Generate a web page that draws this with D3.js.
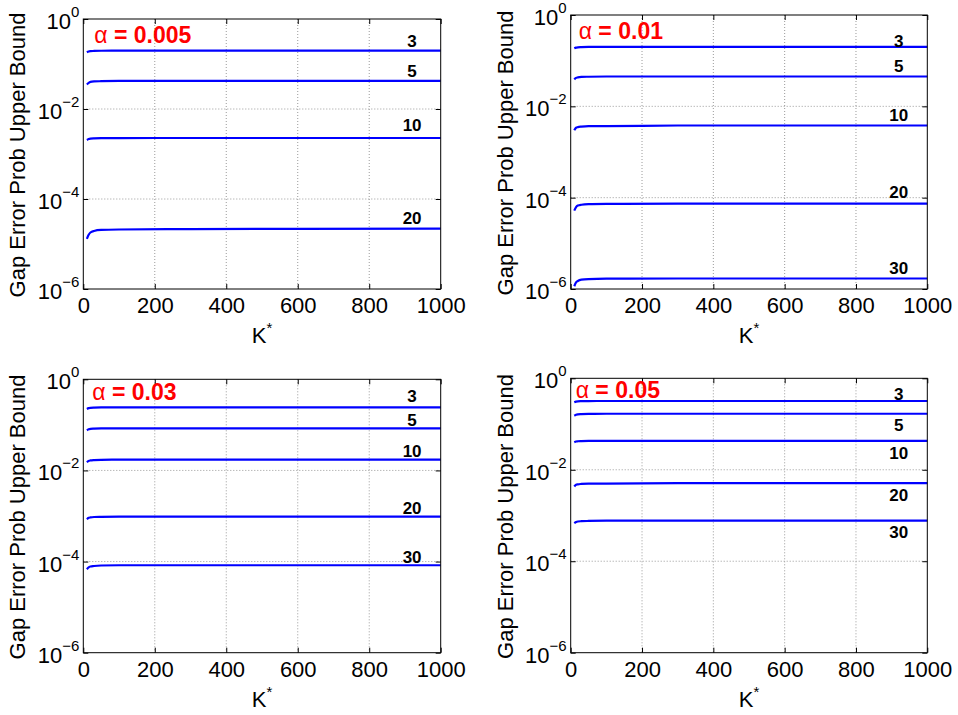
<!DOCTYPE html>
<html lang="en">
<head>
  <meta charset="UTF-8">
  <title>Gap Error Prob Upper Bound</title>
  <script src="https://d3js.org/d3.v7.min.js"></script>
  <style>
    body { margin: 0; background: white; }
    svg { display: block; }
    svg text { font-family: "Liberation Sans", Arial, Helvetica, sans-serif; }
  </style>
</head>
<body>
  <div id="chart"></div>
  <script>
    // data
    const kSamples = [10, 15, 20, 30, 50, 100, 300, 1000]
    const xTicks = [0, 200, 400, 600, 800, 1000]
    const yTickExponents = [0, -2, -4, -6]
    const alphaValues = ['0.005', '0.01', '0.03', '0.05']
    const gapsAlpha005 = [3, 5, 10, 20]
    const gapsOther = [3, 5, 10, 20, 30]

    const boundAlpha005 = [
      [0.182, 0.190, 0.193, 0.195, 0.197, 0.198, 0.198, 0.198],
      [0.035, 0.038, 0.040, 0.041, 0.0415, 0.042, 0.042, 0.042],
      [0.00205, 0.00215, 0.0022, 0.00223, 0.00225, 0.00226, 0.00227, 0.00227],
      [1.3e-5, 1.6e-5, 1.8e-5, 1.95e-5, 2.05e-5, 2.1e-5, 2.15e-5, 2.19e-5]
    ]
    const boundAlpha01 = [
      [0.186, 0.193, 0.196, 0.198, 0.200, 0.201, 0.201, 0.201],
      [0.039, 0.042, 0.043, 0.044, 0.0445, 0.045, 0.045, 0.045],
      [0.0030, 0.0034, 0.0035, 0.0036, 0.0037, 0.0037, 0.0038, 0.0038],
      [5.2e-5, 6.2e-5, 6.7e-5, 7.0e-5, 7.2e-5, 7.3e-5, 7.4e-5, 7.4e-5],
      [1.15e-6, 1.4e-6, 1.5e-6, 1.6e-6, 1.65e-6, 1.68e-6, 1.7e-6, 1.7e-6]
    ]
    const boundAlpha03 = [
      [0.223, 0.233, 0.237, 0.240, 0.242, 0.243, 0.243, 0.243],
      [0.076, 0.080, 0.082, 0.083, 0.084, 0.084, 0.084, 0.084],
      [0.0151, 0.0162, 0.0166, 0.0169, 0.0171, 0.0172, 0.0172, 0.0172],
      [8.5e-4, 9.1e-4, 9.3e-4, 9.5e-4, 9.6e-4, 9.7e-4, 9.7e-4, 9.7e-4],
      [6.8e-5, 7.5e-5, 7.8e-5, 8.0e-5, 8.2e-5, 8.3e-5, 8.3e-5, 8.3e-5]
    ]
    const boundAlpha05 = [
      [0.300, 0.310, 0.314, 0.316, 0.318, 0.319, 0.319, 0.319],
      [0.152, 0.160, 0.163, 0.165, 0.167, 0.168, 0.168, 0.168],
      [0.040, 0.0415, 0.042, 0.0425, 0.043, 0.043, 0.043, 0.043],
      [0.0043, 0.0047, 0.0048, 0.0049, 0.0050, 0.0050, 0.0051, 0.0051],
      [6.8e-4, 7.2e-4, 7.4e-4, 7.5e-4, 7.6e-4, 7.7e-4, 7.7e-4, 7.7e-4]
    ]

    // layout of the four panels (pixels)
    const panels = [
      { alpha: alphaValues[0], gaps: gapsAlpha005, bounds: boundAlpha005,
        box: [83.3, 440.7, 19, 289], alphaPos: [11, 24], labelDy: [4, 4, 7, 5] },
      { alpha: alphaValues[1], gaps: gapsOther, bounds: boundAlpha01,
        box: [570.7, 927.3, 15, 289], alphaPos: [8, 24], labelDy: [0, 5, 5, 6, 4] },
      { alpha: alphaValues[2], gaps: gapsOther, bounds: boundAlpha03,
        box: [83.3, 440.7, 379.3, 652.7], alphaPos: [9, 21], labelDy: [5, 2, 3, 3, 2] },
      { alpha: alphaValues[3], gaps: gapsOther, bounds: boundAlpha05,
        box: [570.7, 927.3, 378.3, 652.7], alphaPos: [5, 20], labelDy: [1, -17, -18, -18, -17] }
    ]

    const width = 958
    const height = 715
    const labelK = 920
    const font = '"Liberation Sans", Arial, Helvetica, sans-serif'

    const svg = d3.select('#chart')
      .append('svg')
      .attr('width', width)
      .attr('height', height)

    svg.append('rect')
      .attr('width', width)
      .attr('height', height)
      .attr('fill', 'white')

    panels.forEach(p => {
      const [x0, x1, y0, y1] = p.box
      const x = d3.scaleLinear().domain([0, 1000]).range([x0, x1])
      const y = d3.scaleLog().domain([1e-6, 1]).range([y1, y0])
      const yTicks = yTickExponents.map(e => Math.pow(10, e))

      const g = svg.append('g')

      // dotted grid
      g.selectAll('.vgrid')
        .data(xTicks.slice(1, -1))
        .enter().append('line')
        .attr('x1', d => x(d)).attr('x2', d => x(d))
        .attr('y1', y0).attr('y2', y1)
        .attr('stroke', '#9a9a9a')
        .attr('stroke-dasharray', '1,2')
      g.selectAll('.hgrid')
        .data(yTicks.slice(1, -1))
        .enter().append('line')
        .attr('x1', x0).attr('x2', x1)
        .attr('y1', d => y(d)).attr('y2', d => y(d))
        .attr('stroke', '#9a9a9a')
        .attr('stroke-dasharray', '1,2')

      // axes with inward ticks
      const xAxis = g.append('g')
        .attr('transform', `translate(0,${y1})`)
        .call(d3.axisBottom(x).tickValues(xTicks).tickSize(-5).tickPadding(8).tickFormat(d3.format('d')))
        .attr('font-family', font)
        .attr('font-size', 22)
      xAxis.select('.domain').remove()
      xAxis.selectAll('text')
        .attr('fill', 'black')
        .attr('dy', '0.72em')

      g.append('g')
        .attr('transform', `translate(0,${y0})`)
        .call(d3.axisTop(x).tickValues(xTicks).tickSize(-5).tickFormat(''))
        .select('.domain').remove()

      const yAxis = g.append('g')
        .attr('transform', `translate(${x0},0)`)
        .call(d3.axisLeft(y).tickValues(yTicks).tickSize(-5).tickPadding(4).tickFormat(''))
        .attr('font-family', font)
        .attr('font-size', 22)
      yAxis.select('.domain').remove()
      yAxis.selectAll('.tick text').each(function (d) {
        const t = d3.select(this)
          .attr('fill', 'black')
          .attr('dy', 9.5)
        t.append('tspan').text('10')
        t.append('tspan')
          .attr('font-size', 15)
          .attr('dy', -12)
          .text(String(Math.round(Math.log10(d))).replace('-', '\u2212'))
      })

      g.append('g')
        .attr('transform', `translate(${x1},0)`)
        .call(d3.axisRight(y).tickValues(yTicks).tickSize(-5).tickFormat(''))
        .select('.domain').remove()

      g.selectAll('.tick line').attr('stroke', 'black')

      // curves
      const line = d3.line()
        .x((d, i) => x(kSamples[i]))
        .y(d => y(d))
        .curve(d3.curveMonotoneX)

      g.selectAll('.curve')
        .data(p.bounds)
        .enter().append('path')
        .attr('d', line)
        .attr('fill', 'none')
        .attr('stroke', '#0000ff')
        .attr('stroke-width', 2.2)

      // gap labels
      g.selectAll('.gap')
        .data(p.gaps)
        .enter().append('text')
        .attr('x', x(labelK))
        .attr('y', (d, i) => y(p.bounds[i][p.bounds[i].length - 1]) - p.labelDy[i])
        .attr('text-anchor', 'middle')
        .attr('font-size', 17)
        .attr('font-weight', 'bold')
        .attr('fill', 'black')
        .text(d => d)

      // frame
      g.append('rect')
        .attr('x', x0).attr('y', y0)
        .attr('width', x1 - x0).attr('height', y1 - y0)
        .attr('fill', 'none')
        .attr('stroke', 'black')
        .attr('stroke-width', 1)

      // alpha label
      const a = g.append('text')
        .attr('x', x0 + p.alphaPos[0])
        .attr('y', y0 + p.alphaPos[1])
        .attr('font-size', 23)
        .attr('fill', '#ff0000')
      a.append('tspan').text('\u03b1')
      a.append('tspan').attr('font-weight', 'bold').text(' = ' + p.alpha)

      // axis titles
      g.append('text')
        .attr('transform', `translate(${x0 - 58},${(y0 + y1) / 2 + 1}) rotate(-90)`)
        .attr('text-anchor', 'middle')
        .attr('font-size', 22)
        .text('Gap Error Prob Upper Bound')

      const k = g.append('text')
        .attr('x', (x0 + x1) / 2)
        .attr('y', y1 + 54)
        .attr('text-anchor', 'middle')
        .attr('font-size', 22)
      k.append('tspan').text('K')
      k.append('tspan').attr('font-size', 15).attr('dy', -10).text('*')
    })
  </script>
</body>
</html>
